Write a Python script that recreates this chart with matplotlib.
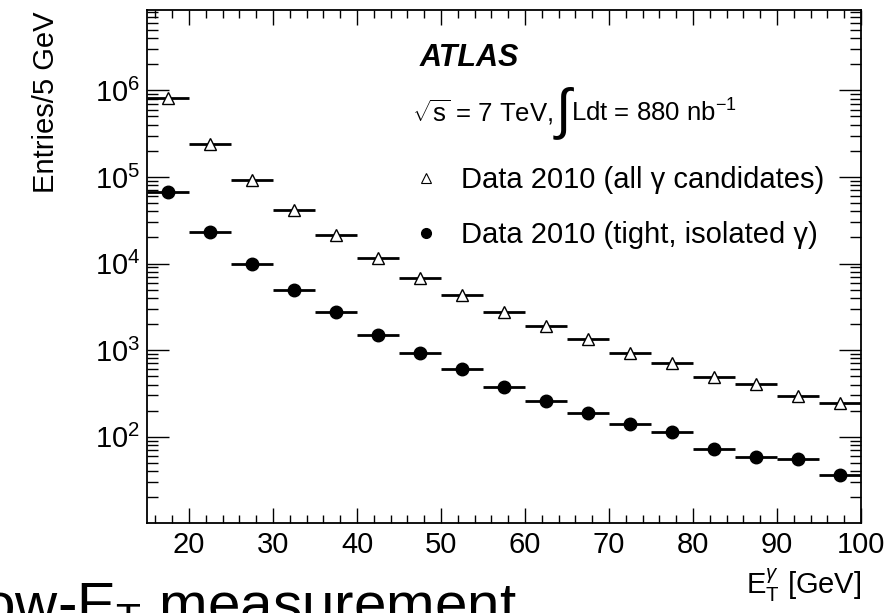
import matplotlib
matplotlib.use("Agg")
import matplotlib.pyplot as plt
from matplotlib.lines import Line2D
from matplotlib.ticker import MultipleLocator, LogLocator, NullFormatter, FixedLocator
from matplotlib.offsetbox import TextArea, HPacker, AnchoredOffsetbox
import numpy as np

plt.rcParams['font.family'] = ['Liberation Sans', 'DejaVu Sans']
plt.rcParams['mathtext.fontset'] = 'custom'
plt.rcParams['mathtext.rm'] = 'Liberation Sans'
plt.rcParams['mathtext.it'] = 'Liberation Sans:italic'
plt.rcParams['mathtext.bf'] = 'Liberation Sans:bold'
plt.rcParams['mathtext.sf'] = 'Liberation Sans'

# Data
bin_centers = [17.5, 22.5, 27.5, 32.5, 37.5, 42.5, 47.5, 52.5, 57.5,
               62.5, 67.5, 72.5, 77.5, 82.5, 87.5, 92.5, 97.5]
bin_half_width = 2.5
all_candidates = [8.2e5, 2.43e5, 9.3e4, 4.13e4, 2.14e4, 1.17e4, 6.84e3, 4.35e3,
                  2.77e3, 1.91e3, 1.33e3, 9.27e2, 7.04e2, 4.93e2, 4.06e2, 2.95e2, 2.43e2]
tight_isolated = [6.7e4, 2.29e4, 9.9e3, 4.93e3, 2.75e3, 1.48e3, 9.33e2, 6.05e2,
                  3.75e2, 2.61e2, 1.86e2, 1.39e2, 1.12e2, 7.2e1, 5.85e1, 5.5e1, 3.6e1]
x_major_ticks = [20, 30, 40, 50, 60, 70, 80, 90, 100]
label_all = "Data 2010 (all γ candidates)"
label_tight = "Data 2010 (tight, isolated γ)"

W, H = 891, 613
fig = plt.figure(figsize=(W / 100, H / 100), dpi=100)
ax = fig.add_axes([147 / W, 1 - 523 / H, (861 - 147) / W, (523 - 10) / H])

ax.errorbar(bin_centers, all_candidates, xerr=bin_half_width, fmt='^', ms=9,
            mfc='white', mec='black', mew=1.0, ecolor='black', elinewidth=2.0,
            capsize=0, zorder=3)
ax.errorbar(bin_centers, tight_isolated, xerr=bin_half_width, fmt='o', ms=9,
            mfc='black', mec='black', ecolor='black', elinewidth=2.0,
            capsize=0, zorder=3)

ax.set_yscale('log')
ax.set_xlim(15, 100)
ax.set_ylim(10.05, 8.5e6)

ax.xaxis.set_major_locator(FixedLocator(x_major_ticks))
ax.xaxis.set_minor_locator(MultipleLocator(2))
ax.yaxis.set_major_locator(LogLocator(base=10, numticks=20))
ax.yaxis.set_minor_locator(LogLocator(base=10, subs=np.arange(2, 10), numticks=20))
ax.yaxis.set_minor_formatter(NullFormatter())

ax.tick_params(which='both', direction='in', top=True, right=True, width=1.0,
               labelsize=21)
ax.tick_params(axis='x', which='major', length=11, pad=6)
ax.tick_params(axis='x', which='minor', length=6)
ax.tick_params(axis='y', which='major', length=16, pad=5)
ax.tick_params(axis='y', which='minor', length=8)
for s in ax.spines.values():
    s.set_linewidth(1.3)

ax.set_ylabel("Entries/5 GeV", fontsize=21, loc='top')
ax.yaxis.set_label_coords(-0.122, 0.997)
ax.set_xlabel(r"$\mathrm{E}_{\mathrm{T}}^{\gamma}$ [GeV]", fontsize=21, loc='right')
ax.xaxis.set_label_coords(1.0, -0.085)

ax.text(0.382, 0.906, "ATLAS", transform=ax.transAxes, fontsize=22,
        fontweight='bold', fontstyle='italic', ha='left', va='center')

parts = HPacker(children=[
    TextArea(r"$\sqrt{\mathrm{s}}$ = 7 TeV, ", textprops=dict(fontsize=18.5)),
    TextArea("∫", textprops=dict(fontsize=40)),
    TextArea(r"Ldt = 880 nb$^{\mathrm{-1}}$", textprops=dict(fontsize=18.5)),
], align='center', pad=0, sep=0)
abox = AnchoredOffsetbox(loc='center left', child=parts, pad=0, borderpad=0,
                         frameon=False, bbox_to_anchor=(0.371, 0.80),
                         bbox_transform=ax.transAxes)
ax.add_artist(abox)

handles = [Line2D([], [], ls='none', marker='^', ms=7, mfc='white', mec='black', mew=0.8),
           Line2D([], [], ls='none', marker='o', ms=7, mfc='black', mec='black')]
leg = ax.legend(handles, [label_all, label_tight], loc='upper left',
                bbox_to_anchor=(0.37, 0.695), frameon=False, fontsize=21,
                handlelength=1.0, handletextpad=0.7, labelspacing=0.9,
                borderaxespad=0, borderpad=0)

fig.text(-50 / W, -10 / H, r"Low-E$_{\mathrm{T}}$ measurement", fontsize=42,
         ha='left', va='baseline')

fig.savefig("out.png", dpi=100)
